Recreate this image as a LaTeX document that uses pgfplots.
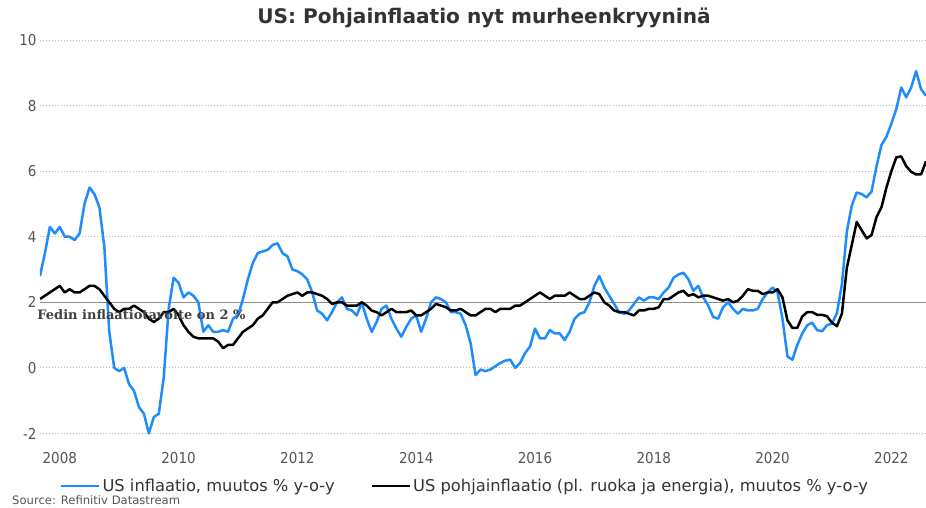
\documentclass[border=0pt]{standalone}
\usepackage{pgfplots}
\pgfplotsset{compat=1.18}
\usepackage{pgfplotstable}
\usepackage{fontspec}
\setmainfont{DejaVu Sans Condensed}[BoldFont={DejaVu Sans Condensed Bold}]
\newfontfamily\widefont{DejaVu Sans}[BoldFont={DejaVu Sans Bold}]
\newfontfamily\annofont{DejaVu Serif}[BoldFont={DejaVu Serif Bold}]
\definecolor{cpiblue}{RGB}{30,140,252}
\definecolor{txtgray}{RGB}{85,85,85}
\definecolor{titlegray}{RGB}{51,51,51}
\definecolor{goalgray}{RGB}{140,140,140}

\pgfplotstableread{
y m cpi core
2007 9 2.8 2.1
2007 10 3.5 2.2
2007 11 4.3 2.3
2007 12 4.1 2.4
2008 1 4.3 2.5
2008 2 4.0 2.3
2008 3 4.0 2.4
2008 4 3.9 2.3
2008 5 4.1 2.3
2008 6 5.0 2.4
2008 7 5.5 2.5
2008 8 5.3 2.5
2008 9 4.9 2.4
2008 10 3.7 2.2
2008 11 1.1 2.0
2008 12 0.0 1.8
2009 1 -0.1 1.7
2009 2 0.0 1.8
2009 3 -0.5 1.8
2009 4 -0.7 1.9
2009 5 -1.2 1.8
2009 6 -1.4 1.7
2009 7 -2.0 1.5
2009 8 -1.5 1.4
2009 9 -1.4 1.5
2009 10 -0.3 1.7
2009 11 1.8 1.7
2009 12 2.75 1.8
2010 1 2.6 1.6
2010 2 2.15 1.3
2010 3 2.3 1.1
2010 4 2.2 0.95
2010 5 2.0 0.9
2010 6 1.1 0.9
2010 7 1.3 0.9
2010 8 1.1 0.9
2010 9 1.1 0.8
2010 10 1.15 0.6
2010 11 1.1 0.7
2010 12 1.5 0.7
2011 1 1.6 0.9
2011 2 2.1 1.1
2011 3 2.7 1.2
2011 4 3.2 1.3
2011 5 3.5 1.5
2011 6 3.55 1.6
2011 7 3.6 1.8
2011 8 3.75 2.0
2011 9 3.8 2.0
2011 10 3.5 2.1
2011 11 3.4 2.2
2011 12 3.0 2.25
2012 1 2.95 2.3
2012 2 2.85 2.2
2012 3 2.7 2.3
2012 4 2.3 2.3
2012 5 1.75 2.25
2012 6 1.65 2.2
2012 7 1.45 2.1
2012 8 1.7 1.95
2012 9 2.0 2.0
2012 10 2.15 2.0
2012 11 1.8 1.9
2012 12 1.75 1.9
2013 1 1.6 1.9
2013 2 2.0 2.0
2013 3 1.5 1.9
2013 4 1.1 1.75
2013 5 1.4 1.7
2013 6 1.8 1.6
2013 7 1.9 1.7
2013 8 1.5 1.8
2013 9 1.2 1.7
2013 10 0.95 1.7
2013 11 1.25 1.7
2013 12 1.5 1.75
2014 1 1.6 1.6
2014 2 1.1 1.6
2014 3 1.5 1.7
2014 4 2.0 1.8
2014 5 2.15 1.95
2014 6 2.1 1.9
2014 7 2.0 1.85
2014 8 1.7 1.75
2014 9 1.7 1.75
2014 10 1.65 1.8
2014 11 1.3 1.7
2014 12 0.75 1.6
2015 1 -0.22 1.6
2015 2 -0.05 1.7
2015 3 -0.1 1.8
2015 4 -0.05 1.8
2015 5 0.05 1.7
2015 6 0.15 1.8
2015 7 0.22 1.8
2015 8 0.25 1.8
2015 9 0.0 1.9
2015 10 0.15 1.9
2015 11 0.45 2.0
2015 12 0.65 2.1
2016 1 1.2 2.2
2016 2 0.9 2.3
2016 3 0.9 2.2
2016 4 1.15 2.1
2016 5 1.05 2.2
2016 6 1.05 2.2
2016 7 0.85 2.2
2016 8 1.1 2.3
2016 9 1.5 2.2
2016 10 1.65 2.1
2016 11 1.7 2.1
2016 12 2.0 2.2
2017 1 2.5 2.3
2017 2 2.8 2.25
2017 3 2.45 2.0
2017 4 2.2 1.9
2017 5 1.95 1.75
2017 6 1.7 1.7
2017 7 1.65 1.7
2017 8 1.75 1.65
2017 9 1.95 1.6
2017 10 2.15 1.75
2017 11 2.05 1.75
2017 12 2.15 1.8
2018 1 2.15 1.8
2018 2 2.1 1.85
2018 3 2.3 2.1
2018 4 2.45 2.1
2018 5 2.75 2.2
2018 6 2.85 2.3
2018 7 2.9 2.35
2018 8 2.7 2.2
2018 9 2.35 2.25
2018 10 2.5 2.15
2018 11 2.15 2.2
2018 12 1.9 2.2
2019 1 1.55 2.15
2019 2 1.5 2.1
2019 3 1.85 2.05
2019 4 2.0 2.1
2019 5 1.8 2.0
2019 6 1.65 2.05
2019 7 1.8 2.2
2019 8 1.75 2.4
2019 9 1.75 2.35
2019 10 1.8 2.35
2019 11 2.1 2.25
2019 12 2.3 2.3
2020 1 2.45 2.3
2020 2 2.3 2.4
2020 3 1.5 2.15
2020 4 0.35 1.45
2020 5 0.25 1.22
2020 6 0.7 1.22
2020 7 1.05 1.57
2020 8 1.3 1.7
2020 9 1.38 1.7
2020 10 1.15 1.62
2020 11 1.12 1.62
2020 12 1.3 1.57
2021 1 1.35 1.38
2021 2 1.67 1.27
2021 3 2.55 1.65
2021 4 4.15 3.05
2021 5 4.95 3.75
2021 6 5.35 4.45
2021 7 5.3 4.2
2021 8 5.2 3.95
2021 9 5.38 4.05
2021 10 6.15 4.6
2021 11 6.8 4.9
2021 12 7.05 5.5
2022 1 7.45 6.0
2022 2 7.9 6.42
2022 3 8.55 6.45
2022 4 8.25 6.15
2022 5 8.55 5.98
2022 6 9.05 5.9
2022 7 8.5 5.9
2022 8 8.3 6.3
}\datatab

\begin{document}
\begin{tikzpicture}
\useasboundingbox (-40pt,-68pt) rectangle (886pt,440pt);
\begin{axis}[
  at={(0pt,0pt)}, anchor=south west,
  width=886pt, height=400pt, scale only axis,
  xmin=2007.667, xmax=2022.583, ymin=-2.2, ymax=10,
  xtick={2008,2010,2012,2014,2016,2018,2020,2022},
  ytick={-2,0,2,4,6,8,10},
  axis line style={draw=none},
  tick style={draw=none},
  major tick length=0pt,
  ymajorgrids,
  grid style={dash pattern=on 0.9pt off 2.1pt, line width=0.9pt, color=black!28},
  /pgf/number format/assume math mode=true,
  /pgf/number format/1000 sep={},
  tick label style={font=\fontsize{15}{17}\selectfont, text=txtgray},
  xticklabel style={yshift=-9pt},
  legend columns=2,
  legend style={at={(0.4797,-0.115)}, anchor=center, draw=none, fill=none,
    font=\widefont\fontsize{16.3}{19}\selectfont, text=titlegray,
    /tikz/every even column/.append style={column sep=34pt}},
  legend image code/.code={\draw[#1] (0pt,0pt) -- (38pt,0pt);},
]
\addplot[goalgray, line width=1.5pt, forget plot] coordinates {(2007.667,2) (2022.583,2)};
\addplot[cpiblue, line width=2.5pt, line join=round] table[x expr=\thisrow{y}+(\thisrow{m}-1)/12, y=cpi] {\datatab};
\addlegendentry{US inflaatio, muutos \% y-o-y}
\addplot[black, line width=2.5pt, line join=round] table[x expr=\thisrow{y}+(\thisrow{m}-1)/12, y=core] {\datatab};
\addlegendentry{US pohjainflaatio (pl. ruoka ja energia), muutos \% y-o-y}
\coordinate (anno) at (axis cs:2007.62,1.62);
\end{axis}
\node[anchor=west, inner sep=0pt, text=black!75, font=\annofont\bfseries\fontsize{13}{15}\selectfont] at (anno) {Fedin inflaatiotavoite on 2 \%};
\node[text=titlegray, font=\widefont\bfseries\fontsize{20.1}{23}\selectfont] at (444pt,422pt) {US: Pohjainflaatio nyt murheenkryyninä};
\node[anchor=base west, inner sep=0pt, text=txtgray, font=\widefont\fontsize{11.6}{14}\selectfont] at (-28pt,-64.5pt) {Source: Refinitiv Datastream};
\end{tikzpicture}
\end{document}
